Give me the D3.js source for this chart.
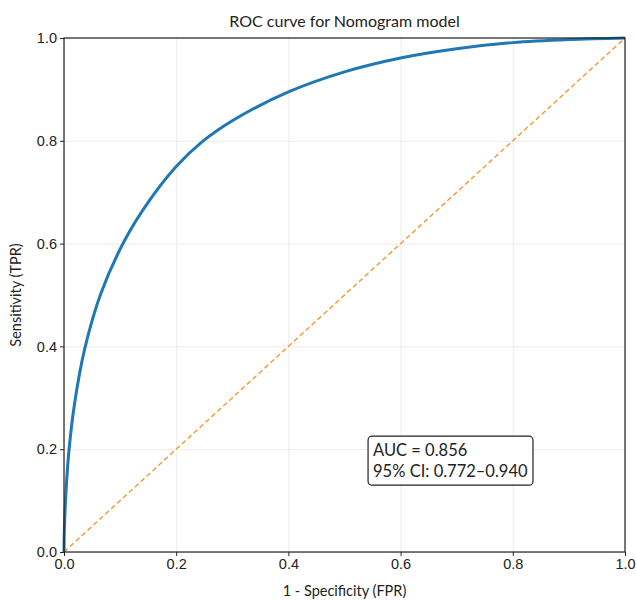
<!DOCTYPE html>
<html>
<head>
<meta charset="utf-8">
<script src="https://cdn.jsdelivr.net/npm/d3@7"></script>
<style>
  body { margin: 0; background: #fff; }
  svg { font-family: "Source Sans Pro", Lato, "Noto Sans", sans-serif; }
  .grid line { stroke: #e7e6e2; stroke-width: 0.8; }
  .grid path { display: none; }
  .axis path, .axis line { stroke: #222; }
  .axis text { font-size: 14.5px; fill: #222; }
</style>
</head>
<body>
<svg id="chart"></svg>
<script>
// ROC curve
const fpr = [0, 0.0002, 0.001, 0.0036, 0.0089, 0.019, 0.0369, 0.0654, 0.108, 0.153, 0.2, 0.245, 0.3, 0.4, 0.5, 0.6, 0.7, 0.8, 0.9, 1];
const tpr = [0, 0.022, 0.056, 0.118, 0.198, 0.29, 0.395, 0.502, 0.606, 0.685, 0.75, 0.797, 0.839, 0.895, 0.934, 0.961, 0.979, 0.991, 0.997, 1];
const refLine = [0, 1];
const ticks = [0, 0.2, 0.4, 0.6, 0.8, 1.0];
const annotLines = ["AUC = 0.856", "95% CI: 0.772\u20130.940"];

const W = 636, H = 601;
const margin = { top: 38, right: 11, bottom: 49, left: 64 };
const width = W - margin.left - margin.right;
const height = H - margin.top - margin.bottom;

const svg = d3.select("#chart").attr("width", W).attr("height", H);
const g = svg.append("g").attr("transform", `translate(${margin.left},${margin.top})`);

const x = d3.scaleLinear().domain([0, 1]).range([0, width]);
const y = d3.scaleLinear().domain([0, 1]).range([height, 0]);

// grid
g.append("g").attr("class", "grid")
  .attr("transform", `translate(0,${height})`)
  .call(d3.axisBottom(x).tickValues(ticks).tickSize(-height).tickFormat(""));
g.append("g").attr("class", "grid")
  .call(d3.axisLeft(y).tickValues(ticks).tickSize(-width).tickFormat(""));

// diagonal reference
g.append("line")
  .attr("x1", x(refLine[0])).attr("y1", y(refLine[0]))
  .attr("x2", x(refLine[1])).attr("y2", y(refLine[1]))
  .attr("stroke", "#ef9a30")
  .attr("stroke-width", 1.4)
  .attr("stroke-dasharray", "5,3");

// ROC curve
const pts = fpr.map((f, i) => [f, tpr[i]]);
g.append("path")
  .datum(pts)
  .attr("fill", "none")
  .attr("stroke", "#1f77b4")
  .attr("stroke-width", 3)
  .attr("d", d3.line().x(d => x(d[0])).y(d => y(d[1])).curve(d3.curveCatmullRom.alpha(0.5)));

// frame
g.append("rect")
  .attr("width", width).attr("height", height)
  .attr("fill", "none").attr("stroke", "#222").attr("stroke-width", 1.2);

// axes
const fmt = d3.format(".1f");
g.append("g").attr("class", "axis")
  .attr("transform", `translate(0,${height})`)
  .call(d3.axisBottom(x).tickValues(ticks).tickFormat(fmt).tickSize(4).tickPadding(3));
g.append("g").attr("class", "axis")
  .call(d3.axisLeft(y).tickValues(ticks).tickFormat(fmt).tickSize(4).tickPadding(3));
g.selectAll(".axis .domain").remove();

// title + labels
svg.append("text")
  .attr("x", margin.left + width / 2).attr("y", 27)
  .attr("text-anchor", "middle")
  .attr("font-size", 16).attr("fill", "#222")
  .text("ROC curve for Nomogram model");

svg.append("text")
  .attr("x", margin.left + width / 2).attr("y", 596)
  .attr("text-anchor", "middle")
  .attr("font-size", 14.5).attr("fill", "#222")
  .text("1 - Specificity (FPR)");

svg.append("text")
  .attr("transform", `translate(21,${margin.top + height / 2}) rotate(-90)`)
  .attr("text-anchor", "middle")
  .attr("font-size", 14.5).attr("fill", "#222")
  .text("Sensitivity (TPR)");

// annotation box
const bx = x(0.542), by = y(0.13);
const box = g.append("g");
const txt = box.append("text")
  .attr("font-size", 16.5).attr("fill", "#222");
annotLines.forEach((t, i) => {
  txt.append("tspan").attr("x", bx + 5).attr("y", by - 29 + i * 21).text(t);
});
const bb = txt.node().getBBox();
box.insert("rect", "text")
  .attr("x", bx).attr("y", bb.y - 4)
  .attr("width", bb.width + 10).attr("height", bb.height + 8)
  .attr("rx", 4)
  .attr("fill", "#fff").attr("stroke", "#222").attr("stroke-width", 1.2);
</script>
</body>
</html>
